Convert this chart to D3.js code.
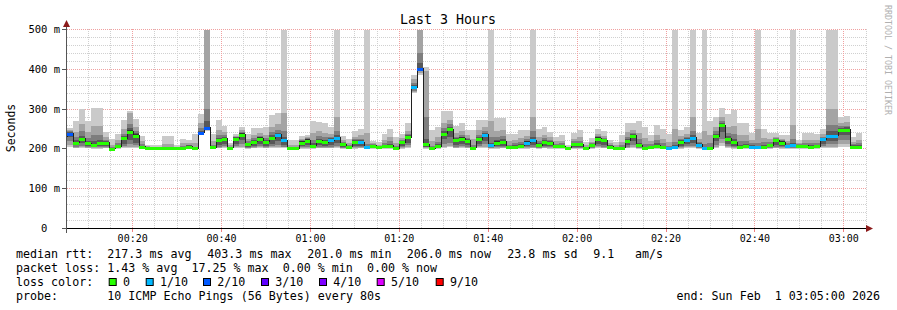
<!DOCTYPE html>
<html>
<head>
<meta charset="utf-8">
<script src="https://cdn.jsdelivr.net/npm/d3@7"></script>
<style>
  body { margin: 0; background: #fff; }
  text { font-family: "DejaVu Sans Mono", monospace; white-space: pre; }
</style>
</head>
<body>
<svg width="897" height="310"></svg>
<script>
// one step = 80 s, first step starts 00:04:00 (partly left of the plot)
const stepSec = 80;
const firstStep = Date.UTC(2026, 1, 1, 0, 4, 0);

// median rtt per step, ms
const median = [231,
  238,216,225,214,211,214,216,201,207,227,
  243,233,205,202,202,202,202,202,202,203,
  206,202,241,253,204,222,225,203,225,236,
  212,218,226,218,227,235,222,202,202,216,
  221,208,220,217,222,228,212,205,217,217,
  204,208,205,207,208,202,217,229,355,401,
  212,202,207,238,250,222,226,220,203,224,
  235,209,216,218,204,206,208,216,222,209,
  217,215,207,207,203,212,212,202,210,226,
  222,206,202,203,220,233,209,202,205,208,
  204,202,206,217,223,228,211,202,202,232,
  260,225,217,205,207,205,204,206,209,222,
  216,207,209,208,208,206,207,224,233,233,
  248,248,206,206];

// lost pings per step (of 10)
const loss = [1,
  2,0,0,0,0,0,0,0,0,0,
  0,0,0,0,0,0,0,0,0,0,
  0,0,2,2,0,0,0,0,0,0,
  0,0,0,0,0,1,1,0,0,0,
  0,0,0,0,1,1,0,0,0,1,
  1,0,0,0,0,0,0,0,1,2,
  0,0,0,0,0,0,0,0,0,0,
  1,1,0,0,0,0,0,1,1,0,
  0,0,0,0,0,0,0,0,0,0,
  0,0,0,0,0,0,0,0,0,0,
  0,1,1,0,1,1,1,1,0,0,
  0,0,0,0,0,1,1,0,0,0,
  0,1,1,0,0,0,0,1,1,1,
  0,0,0,0];

// sorted ping times per step (ping1 .. ping10), ms
const pings = [
  [205,210,218,225,229,233,236,240,245,258],
  [205,210,220,230,236,240,242,245,248,253],
  [202,203,205,209,214,218,222,230,243,271],
  [202,204,207,214,222,228,233,244,262,300],
  [202,203,205,208,212,216,220,228,242,270],
  [201,202,204,206,209,213,220,234,257,303],
  [201,203,205,207,212,216,223,236,258,303],
  [202,203,205,208,214,218,220,223,229,242],
  [200,200,201,201,201,201,202,204,210,226],
  [201,202,203,204,206,208,210,214,222,238],
  [202,204,207,213,224,230,233,238,250,273],
  [203,206,212,222,238,248,253,262,290,294],
  [202,205,209,216,229,237,240,245,254,275],
  [201,202,202,203,204,206,208,212,219,233],
  [201,201,201,201,202,202,203,204,207,211],
  [201,201,201,201,202,202,202,203,205,209],
  [201,201,201,201,202,202,202,203,205,209],
  [201,201,201,202,202,202,203,205,212,233],
  [201,201,201,202,202,202,203,205,212,233],
  [201,201,201,201,202,202,202,203,205,209],
  [201,201,202,202,203,203,205,208,214,226],
  [201,202,203,204,205,207,209,211,215,222],
  [201,201,201,202,202,202,203,205,215,238],
  [238,239,240,240,241,242,245,252,265,287],
  [245,247,249,251,252,254,270,300,500,500],
  [201,201,202,203,203,205,207,211,220,238],
  [202,203,205,210,219,225,228,235,248,273],
  [202,204,207,213,222,228,230,234,242,258],
  [201,201,201,202,202,204,205,206,209,215],
  [202,204,207,213,222,228,229,231,233,238],
  [203,206,212,222,233,239,240,243,247,255],
  [201,202,203,205,210,214,216,219,225,238],
  [202,203,205,208,215,221,223,227,235,253],
  [202,204,207,213,223,229,231,233,240,253],
  [202,203,205,208,215,221,223,227,236,255],
  [202,204,207,213,224,230,234,242,256,285],
  [202,205,210,220,232,238,241,248,262,289],
  [202,204,206,211,219,225,230,245,290,500],
  [201,201,201,201,202,202,203,205,210,222],
  [201,201,201,201,202,202,203,205,210,222],
  [201,202,204,207,213,219,220,222,225,232],
  [201,203,205,209,218,224,225,227,229,235],
  [201,202,203,204,206,210,214,223,240,269],
  [202,203,205,209,217,223,226,232,244,267],
  [202,203,205,208,214,220,223,229,240,264],
  [202,203,206,210,219,225,227,230,238,254],
  [202,204,208,214,225,231,235,245,280,500],
  [201,202,203,205,210,214,216,218,222,232],
  [201,201,202,203,204,206,208,210,215,226],
  [201,203,205,208,214,220,222,225,231,245],
  [202,203,205,208,214,220,222,226,234,251],
  [201,201,202,202,203,205,207,212,240,500],
  [201,202,203,204,206,210,211,212,215,221],
  [201,201,202,203,204,206,207,208,211,217],
  [201,202,203,204,205,209,211,215,222,238],
  [201,202,203,204,206,210,213,219,230,251],
  [201,201,201,201,202,202,204,207,214,229],
  [201,203,205,208,214,220,221,223,227,238],
  [203,205,209,216,226,232,234,238,246,264],
  [340,342,345,350,353,357,360,366,375,386],
  [385,390,395,398,400,403,415,440,500,500],
  [201,202,204,206,209,215,225,280,395,405],
  [201,201,201,201,202,202,204,208,220,248],
  [201,202,202,203,205,209,212,218,230,254],
  [203,206,212,224,235,241,244,252,266,294],
  [204,208,216,230,247,253,256,262,273,296],
  [202,203,206,211,219,225,227,231,240,257],
  [202,204,207,213,223,229,231,236,246,265],
  [202,203,205,209,217,223,225,228,234,248],
  [201,201,201,202,202,204,206,211,224,248],
  [202,204,207,212,221,227,230,236,248,273],
  [203,206,212,221,232,238,240,245,254,273],
  [201,202,203,204,207,211,216,230,270,500],
  [201,202,204,207,213,219,223,231,246,277],
  [202,203,205,208,215,221,225,233,247,277],
  [201,201,202,202,203,205,207,211,221,238],
  [201,201,202,203,205,207,209,214,222,238],
  [201,202,203,204,206,210,212,218,228,248],
  [201,202,204,207,213,219,221,224,232,248],
  [202,203,206,210,219,225,230,245,280,500],
  [201,202,203,204,207,211,214,220,230,251],
  [202,203,205,208,214,220,223,228,236,255],
  [201,203,205,208,212,218,219,222,229,243],
  [201,202,203,204,205,209,210,213,219,231],
  [201,202,203,204,205,209,211,214,221,235],
  [201,201,201,202,202,204,204,205,206,210],
  [201,202,203,205,210,214,215,219,226,240],
  [201,202,203,205,210,214,216,221,230,248],
  [201,201,201,201,202,202,203,205,209,217],
  [201,202,203,205,208,212,213,215,218,227],
  [202,204,207,213,223,229,230,232,238,251],
  [202,203,206,211,219,225,226,228,233,245],
  [201,202,202,203,204,208,209,210,214,223],
  [201,201,201,201,202,202,203,205,209,217],
  [201,201,201,202,202,204,206,210,218,235],
  [202,203,205,209,217,223,226,231,242,264],
  [203,206,211,219,230,236,237,241,248,264],
  [201,202,203,204,207,211,216,226,240,270],
  [201,201,201,201,202,202,205,212,228,256],
  [201,201,202,203,204,206,208,212,220,235],
  [201,202,203,204,206,210,214,222,235,260],
  [201,201,202,202,203,205,208,214,226,249],
  [201,201,201,201,202,202,204,208,218,238],
  [201,202,202,203,204,208,211,218,250,500],
  [201,203,205,208,214,220,222,225,232,248],
  [202,204,207,212,220,226,228,231,238,254],
  [202,204,208,214,225,231,235,245,280,500],
  [201,202,203,205,209,213,215,218,225,240],
  [201,201,201,201,202,202,205,212,245,500],
  [201,201,201,201,202,202,206,214,234,271],
  [203,206,211,219,229,235,238,245,256,281],
  [208,215,226,242,257,263,265,270,280,302],
  [202,204,207,212,222,228,232,240,256,287],
  [201,202,204,208,214,220,226,238,258,298],
  [201,201,202,203,204,206,211,219,235,265],
  [201,202,202,203,205,209,213,221,236,265],
  [201,201,202,203,204,206,209,214,222,240],
  [201,201,202,202,203,205,208,215,250,500],
  [201,201,202,203,204,208,211,217,228,251],
  [201,202,203,204,207,211,213,217,224,240],
  [202,203,206,211,219,225,226,228,231,240],
  [201,202,204,207,213,219,220,222,225,235],
  [201,202,202,203,205,209,211,214,221,235],
  [201,202,203,204,207,211,215,225,260,500],
  [201,202,203,204,206,210,210,212,215,223],
  [201,202,203,204,206,210,211,215,223,240],
  [201,201,202,203,204,208,210,215,222,240],
  [201,202,202,203,205,209,211,215,222,237],
  [202,204,207,212,221,227,228,231,237,251],
  [203,206,212,221,230,236,245,260,300,500],
  [203,206,212,221,230,236,245,260,300,500],
  [206,212,222,235,245,251,253,257,265,279],
  [206,212,222,235,245,251,254,258,267,283],
  [201,202,202,203,204,208,209,212,218,231],
  [201,202,202,203,204,208,210,214,222,241]
];

const smokeColors = ["#cacaca", "#a4a4a4", "#7e7e7e", "#585858", "#323232"];
const lossLabels = ["0", "1/10", "2/10", "3/10", "4/10", "5/10", "9/10"];
const lossColors = ["#26ff00", "#00b8ff", "#0059ff", "#5e00ff", "#7e00ff", "#dd00ff", "#ff0000"];
const lossLimits = [0, 1, 2, 3, 4, 5, 10];
const yTicks = [0, 100, 200, 300, 400, 500];

const svg = d3.select("svg");
const x = d3.scaleUtc()
  .domain([Date.UTC(2026, 1, 1, 0, 5), Date.UTC(2026, 1, 1, 3, 5)])
  .range([66, 866]);
const y = d3.scaleLinear().domain([0, 500]).range([228.5, 29.5]);
const px = v => Math.round(v - 0.5) + 0.5;
const maxMs = 500, floorMs = 201;

svg.append("rect").attr("width", 897).attr("height", 310).attr("fill", "#fff");

svg.append("defs").append("clipPath").attr("id", "plot")
  .append("rect").attr("x", 67).attr("y", 29).attr("width", 799).attr("height", 200);

// grid
let grid = svg.append("g").attr("stroke-dasharray", "1,1").attr("shape-rendering", "crispEdges");
let minorX = x.ticks(d3.utcMinute.every(5)).filter(d => d.getUTCMinutes() % 20 != 0);
let majorX = x.ticks(d3.utcMinute.every(20));
let minorY = d3.range(20, 501, 20).filter(v => v % 100 != 0);
let majorY = d3.range(100, 501, 100);

grid.selectAll(".mx").data(minorX).enter().append("line")
  .attr("x1", d => px(x(d))).attr("x2", d => px(x(d)))
  .attr("y1", 29).attr("y2", 228).attr("stroke", "#d0d0d0");
grid.selectAll(".my").data(minorY).enter().append("line")
  .attr("x1", 67).attr("x2", 866)
  .attr("y1", d => px(y(d))).attr("y2", d => px(y(d))).attr("stroke", "#d0d0d0");
grid.selectAll(".Mx").data(majorX).enter().append("line")
  .attr("x1", d => px(x(d))).attr("x2", d => px(x(d)))
  .attr("y1", 29).attr("y2", 228).attr("stroke", "#f0a0a0");
grid.selectAll(".My").data(majorY).enter().append("line")
  .attr("x1", 67).attr("x2", 866)
  .attr("y1", d => px(y(d))).attr("y2", d => px(y(d))).attr("stroke", "#f0a0a0");

// steps
let steps = median.map((m, i) => {
  let t0 = new Date(firstStep + i * stepSec * 1000);
  let t1 = new Date(firstStep + (i + 1) * stepSec * 1000);
  return {i, m, lost: loss[i], p: pings[i].map(v => Math.min(v, maxMs)),
          x0: Math.round(x(t0)), x1: Math.round(x(t1)), t0, t1};
});

let plot = svg.append("g").attr("clip-path", "url(#plot)").attr("shape-rendering", "crispEdges");

// white floor under the lowest ping
plot.selectAll(".floor").data(steps.filter(s => s.p[0] > floorMs)).enter().append("rect")
  .attr("x", s => s.x0).attr("width", s => s.x1 - s.x0)
  .attr("y", s => Math.round(y(s.p[0]))).attr("height", s => Math.round(y(floorMs)) - Math.round(y(s.p[0])))
  .attr("fill", "#fff");

// smoke
smokeColors.forEach((c, k) => {
  plot.append("g").selectAll("rect").data(steps).enter().append("rect")
    .attr("x", s => s.x0).attr("width", s => s.x1 - s.x0)
    .attr("y", s => Math.round(y(s.p[9 - k])))
    .attr("height", s => Math.round(y(s.p[k])) - Math.round(y(s.p[9 - k])))
    .attr("fill", c);
});

// median line
let pts = steps.map(s => [s.x0, px(y(s.m))]);
pts.push([steps[steps.length - 1].x1, px(y(median[median.length - 1]))]);
plot.append("path")
  .attr("d", d3.line().curve(d3.curveStepAfter)(pts))
  .attr("fill", "none").attr("stroke", "#202020").attr("stroke-width", 1);

// loss coloured median band
function lossColor(n) {
  let k = lossLimits.findIndex(l => n <= l);
  return lossColors[k < 0 ? lossColors.length - 1 : k];
}
plot.selectAll(".band").data(steps).enter().append("rect")
  .attr("x", s => s.x0).attr("width", s => s.x1 - s.x0)
  .attr("y", s => Math.round(y(s.m)) - 1).attr("height", 3)
  .attr("fill", s => lossColor(s.lost));

// axes
let axes = svg.append("g").attr("shape-rendering", "crispEdges");
axes.append("line").attr("x1", 62).attr("x2", 868).attr("y1", 228.5).attr("y2", 228.5).attr("stroke", "#000");
axes.append("line").attr("x1", 66.5).attr("x2", 66.5).attr("y1", 233).attr("y2", 26).attr("stroke", "#555");
axes.selectAll(".tx").data(majorX).enter().append("line")
  .attr("x1", d => px(x(d))).attr("x2", d => px(x(d))).attr("y1", 229).attr("y2", 232).attr("stroke", "#f08080");
axes.selectAll(".ty").data(yTicks).enter().append("line")
  .attr("x1", 62).attr("x2", 66).attr("y1", d => px(y(d))).attr("y2", d => px(y(d))).attr("stroke", "#555");
svg.append("path").attr("d", "M866,225L873,228.5L866,232Z").attr("fill", "#8b1a1a");
svg.append("path").attr("d", "M63,27L66.5,20L70,27Z").attr("fill", "#8b1a1a");

// tick labels
svg.append("g").selectAll("text").data(majorX).enter().append("text")
  .attr("x", d => x(d)).attr("y", 242).attr("text-anchor", "middle")
  .attr("font-size", 10).attr("fill", "#000")
  .text(d3.utcFormat("%H:%M"));
svg.append("g").selectAll("text").data(yTicks).enter().append("text")
  .attr("x", 60).attr("y", d => y(d) + 3.5).attr("text-anchor", "end")
  .attr("font-size", 10.5).attr("fill", "#000")
  .text(d => d == 0 ? "0  " : d + " m");

// titles
svg.append("text").attr("x", 448).attr("y", 24).attr("text-anchor", "middle")
  .attr("font-size", 13.3).text("Last 3 Hours");
svg.append("text").attr("transform", "translate(15,128) rotate(-90)").attr("text-anchor", "middle")
  .attr("font-size", 11.5).text("Seconds");
svg.append("text").attr("transform", "translate(885,5) rotate(90)")
  .attr("font-size", 8.3).attr("fill", "#b0b0b0").text("RRDTOOL / TOBI OETIKER");

// legend
const legendFont = 11.66;
let legend = svg.append("g").attr("font-size", legendFont).attr("fill", "#000");
const legendRows = [
  [[16, "median rtt:"], [107.3, "217.3 ms avg"], [207.3, "403.3 ms max"], [307.3, "201.0 ms min"],
   [406.7, "206.0 ms now"], [507.3, "23.8 ms sd"], [593.3, "9.1"], [635, "am/s"]],
  [[16, "packet loss: 1.43 % avg  17.25 % max  0.00 % min  0.00 % now"]],
  [[16, "loss color:"]],
  [[16, "probe:"], [107.3, "10 ICMP Echo Pings (56 Bytes) every 80s"]]
];
legendRows.forEach((row, r) => {
  row.forEach(([lx, s]) => legend.append("text").attr("x", lx).attr("y", 258 + r * 14).text(s));
});
const boxX = [108.7, 145.7, 203, 261, 319, 376.7, 435.7];
lossLabels.forEach((l, k) => {
  legend.append("rect").attr("x", boxX[k] + 0.5).attr("y", 278.5).attr("width", 7).attr("height", 7)
    .attr("fill", lossColors[k]).attr("stroke", "#000").attr("stroke-width", 1);
  legend.append("text").attr("x", boxX[k] + 14.3).attr("y", 286).text(l);
});
legend.append("text").attr("x", 880).attr("y", 300).attr("text-anchor", "end")
  .text("end: Sun Feb  1 03:05:00 2026");
</script>
</body>
</html>
